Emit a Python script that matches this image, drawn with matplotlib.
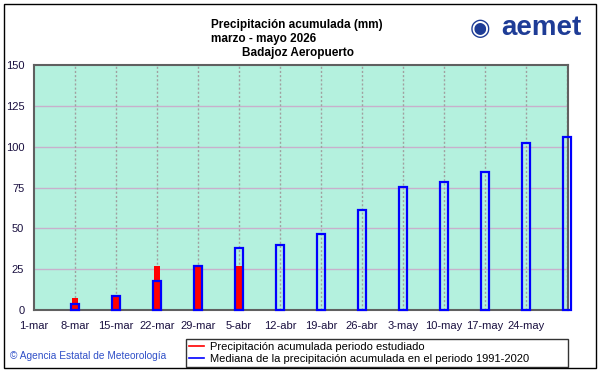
import matplotlib
matplotlib.use('Agg')
import matplotlib.pyplot as plt
from matplotlib.lines import Line2D
from matplotlib.patches import Rectangle

plt.rcParams['font.family'] = ['Liberation Sans', 'DejaVu Sans']

# datos (dias desde 1-mar)
dias = [7, 14, 21, 28, 35, 42, 49, 56, 63, 70, 77, 84, 91]
mediana = [3.7, 8.6, 17.8, 27.2, 37.8, 39.8, 46.7, 61.0, 75.5, 78.6, 84.7, 102.3, 105.9]
dias_obs = [7, 14, 21, 28, 35]
acumulada = [7.5, 8.6, 27.0, 27.0, 27.0]
etiquetas = ['1-mar', '8-mar', '15-mar', '22-mar', '29-mar', '5-abr', '12-abr',
             '19-abr', '26-abr', '3-may', '10-may', '17-may', '24-may']

W, H = 601, 374
fig = plt.figure(figsize=(W / 100, H / 100), dpi=100)
ax = fig.add_axes([34 / W, (H - 310) / H, (568 - 34) / W, (310 - 65) / H])
ax.set_facecolor('#b4f1de')

# rejilla
for y in [25, 50, 75, 100, 125]:
    ax.axhline(y, color='#c8b0cc', lw=1, zorder=1)
for d in dias:
    ax.axvline(d, color='#a0a0a0', lw=1, ls=(0, (1.5, 1.5)), zorder=1)

ax.bar(dias_obs, acumulada, width=1.0, color='#ff0000', zorder=2)
ax.bar(dias, mediana, width=1.3, facecolor='none', edgecolor='#0000ff', lw=1.6,
       zorder=3, clip_on=False)

ax.set_xlim(0, 91.2)
ax.set_ylim(0, 150)
ax.set_xticks(range(0, 85, 7))
ax.set_xticklabels(etiquetas)
ax.set_yticks(range(0, 151, 25))
ax.tick_params(length=0, labelsize=8, colors='#1a1040', pad=8)
ax.tick_params(axis='y', pad=7)
for s in ax.spines.values():
    s.set_color('#606060')
    s.set_linewidth(1.5)

# titulo
fig.text(211 / W, 1 - 25 / H, 'Precipitación acumulada (mm)', fontsize=8.5, fontweight='bold', va='center')
fig.text(211 / W, 1 - 39 / H, 'marzo - mayo 2026', fontsize=8.5, fontweight='bold', va='center')
fig.text(242 / W, 1 - 53 / H, 'Badajoz Aeropuerto', fontsize=8.5, fontweight='bold', va='center')

# logo
fig.text(501 / W, 1 - 28 / H, 'aemet', fontsize=20, fontweight='bold', color='#1e3c96', va='center')
fig.text(480 / W, 1 - 29 / H, '◉', fontsize=17, color='#1e3c96', va='center', ha='center')

fig.text(10 / W, 1 - 356 / H, '© Agencia Estatal de Meteorología', fontsize=7.3, color='#3050c8', va='center')

handles = [Line2D([], [], color='#ff0000', lw=1.2), Line2D([], [], color='#0000ff', lw=1.2)]
labels = ['Precipitación acumulada periodo estudiado',
          'Mediana de la precipitación acumulada en el periodo 1991-2020']
leg = fig.legend(handles, labels, loc='lower left',
                 bbox_to_anchor=(186 / W, (H - 367) / H, (568 - 186) / W, 31 / H),
                 mode='expand', frameon=True, fancybox=False, edgecolor='black',
                 fontsize=8, handlelength=1.3, borderpad=0.3, labelspacing=0.15,
                 handletextpad=0.6, borderaxespad=0)
leg.get_frame().set_linewidth(1)

fig.patches.append(Rectangle((4 / W, (H - 368) / H), 592 / W, 364 / H, transform=fig.transFigure,
                             fill=False, edgecolor='black', lw=1))

fig.savefig('out.png', dpi=100)
